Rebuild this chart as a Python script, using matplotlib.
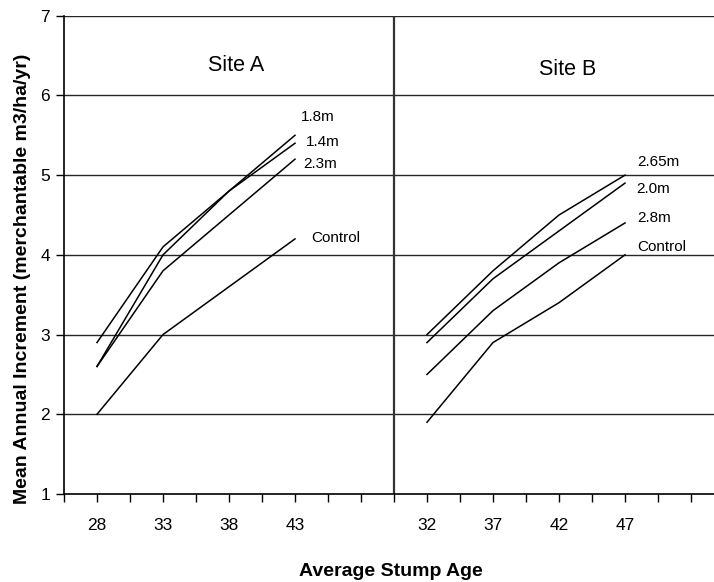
import numpy as np
import matplotlib.pyplot as plt

plt.rcParams['font.family'] = ['Liberation Sans', 'DejaVu Sans']

# stump ages shown on the axis
ages_a = [28, 33, 38, 43]
ages_b = [32, 37, 42, 47]

# site A mean annual increment
a_names = ['1.8m', '1.4m', '2.3m', 'Control']
a_18 = [2.9, 4.1, 4.8, 5.5]
a_14 = [2.6, 4.0, 4.8, 5.4]
a_23 = [2.6, 3.8, 4.5, 5.2]
a_ctl = [2.0, 3.0, 3.6, 4.2]

# site B mean annual increment
b_names = ['2.65m', '2.0m', '2.8m', 'Control']
b_265 = [3.0, 3.8, 4.5, 5.0]
b_20 = [2.9, 3.7, 4.3, 4.9]
b_28 = [2.5, 3.3, 3.9, 4.4]
b_ctl = [1.9, 2.9, 3.4, 4.0]

# slot positions on the shared axis (each site takes 10 slots)
xa = 1 + 2 * np.arange(len(ages_a))
xb = 11 + 2 * np.arange(len(ages_b))

fig = plt.figure(figsize=(7.14, 5.82), dpi=100)
ax = fig.add_axes([64 / 714, 88 / 582, 660 / 714, 478.3 / 582])

for ys in [a_18, a_14, a_23, a_ctl]:
    ax.plot(xa, ys, color='black', lw=1.1)
for ys in [b_265, b_20, b_28, b_ctl]:
    ax.plot(xb, ys, color='black', lw=1.1)

ax.set_xlim(0, 20)
ax.set_ylim(1, 7)

for yv in range(2, 8):
    ax.axhline(yv, color='0.15', lw=1.0, zorder=0)
ax.axvline(10, color='0.2', lw=1.6, zorder=1)

ticks = np.arange(0, 21)
labels = [''] * len(ticks)
for p, a in zip(xa, ages_a):
    labels[p] = str(a)
for p, a in zip(xb, ages_b):
    labels[p] = str(a)
ax.set_xticks(ticks)
ax.set_xticklabels(labels, fontsize=12.5)
ax.set_yticks(range(1, 8))
ax.set_yticklabels([str(v) for v in range(1, 8)], fontsize=12.5)
ax.tick_params(axis='both', direction='out', length=6, width=1, color='black')
ax.tick_params(axis='x', pad=11)
ax.tick_params(axis='y', pad=4)

for s in ['top', 'right']:
    ax.spines[s].set_visible(False)
ax.spines['left'].set_linewidth(1.2)
ax.spines['bottom'].set_linewidth(1.2)

ax.text(5.21, 6.38, 'Site A', fontsize=15.5, ha='center', va='center')
ax.text(15.27, 6.32, 'Site B', fontsize=15.5, ha='center', va='center')

a_pos = [(7.17, 5.73), (7.33, 5.42), (7.24, 5.14), (7.48, 4.21)]
for name, (px, py) in zip(a_names, a_pos):
    t = ax.text(px, py, name, fontsize=11, ha='left', va='center')
    if name == '2.3m':
        t.set_bbox(dict(facecolor='white', edgecolor='none', pad=1.5))
b_pos = [(17.36, 5.16), (17.33, 4.83), (17.36, 4.46), (17.36, 4.10)]
for name, (px, py) in zip(b_names, b_pos):
    ax.text(px, py, name, fontsize=11, ha='left', va='center')

fig.text(23 / 714, 1 - 279 / 582, 'Mean Annual Increment (merchantable m3/ha/yr)',
         fontsize=14, fontweight='bold', rotation=90, ha='center', va='center')
fig.text(391 / 714, 1 - 572 / 582, 'Average Stump Age', fontsize=14,
         fontweight='bold', ha='center', va='center')

fig.savefig('out.png', dpi=100)
